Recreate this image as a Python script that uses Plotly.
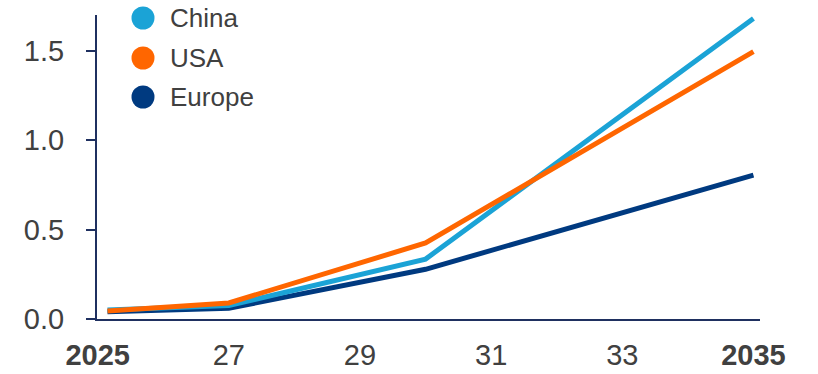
import plotly.graph_objects as go

# Data
years = [2025.15, 2027, 2030, 2035]
china = [0.05, 0.075, 0.335, 1.68]
usa = [0.045, 0.09, 0.425, 1.495]
europe = [0.04, 0.06, 0.278, 0.805]

series_names = ["China", "USA", "Europe"]
series_values = [china, usa, europe]
series_colors = ["#1BA3D6", "#FF6600", "#003A80"]
draw_order = [2, 0, 1]  # Europe, China, USA (USA on top)

tick_vals = [2025, 2027, 2029, 2031, 2033, 2035]
tick_text = ["<b>2025</b>", "27", "29", "31", "33", "<b>2035</b>"]
y_ticks = [0.0, 0.5, 1.0, 1.5]

AXIS = "#1F3060"
TEXT = "#404040"
FONT = "Liberation Sans, Arial, sans-serif"

fig = go.Figure()
for i in draw_order:
    fig.add_trace(go.Scatter(
        x=years, y=series_values[i], mode="lines", name=series_names[i],
        line=dict(color=series_colors[i], width=5), showlegend=False,
    ))

# Custom legend: circles + labels
shapes = []
annotations = []
legend_y_px = [18, 58, 97]
L, T, W, H = 97, 15, 663, 304
for k, name in enumerate(series_names):
    yp = 1 - (legend_y_px[k] - T) / H
    shapes.append(dict(
        type="circle", xref="paper", yref="paper",
        xsizemode="pixel", ysizemode="pixel",
        xanchor=(143 - L) / W, yanchor=yp,
        x0=-11.5, x1=11.5, y0=-11.5, y1=11.5,
        fillcolor=series_colors[k], line=dict(width=0),
    ))
    annotations.append(dict(
        xref="paper", yref="paper", x=(168 - L) / W, y=yp,
        text=name, showarrow=False, xanchor="left", yanchor="middle",
        font=dict(size=26, color=TEXT, family=FONT),
    ))

fig.update_layout(
    width=818, height=374,
    margin=dict(l=L, r=818 - L - W, t=T, b=374 - T - H),
    paper_bgcolor="white", plot_bgcolor="white",
    shapes=shapes, annotations=annotations,
    font=dict(family=FONT, color=TEXT),
)
fig.update_xaxes(
    range=[2024.99, 2035.1], tickvals=tick_vals, ticktext=tick_text,
    showgrid=False, zeroline=False, showline=True, linecolor=AXIS, linewidth=2,
    ticks="", tickfont=dict(size=29, color=TEXT, family=FONT),
    ticklabelstandoff=9, automargin=False,
)
fig.update_yaxes(
    range=[0, 1.7], tickvals=y_ticks, ticktext=[f"{v:.1f}" for v in y_ticks],
    showgrid=False, zeroline=False, showline=True, linecolor=AXIS, linewidth=2,
    ticks="outside", ticklen=9, tickwidth=2, tickcolor=AXIS,
    tickfont=dict(size=29, color=TEXT, family=FONT),
    ticklabelstandoff=16, automargin=False,
)

fig.write_html("out.html")
